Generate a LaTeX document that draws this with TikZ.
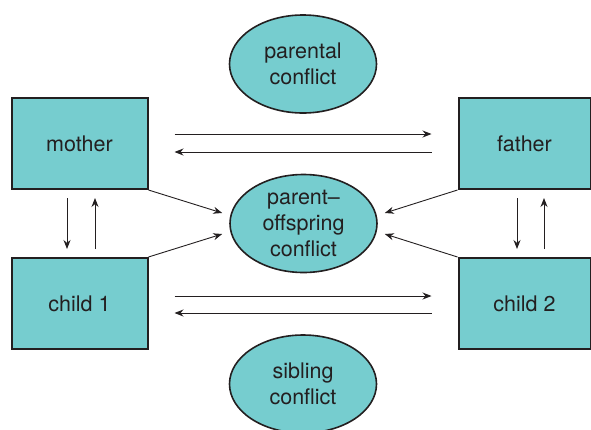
\documentclass[tikz,border=0pt]{standalone}
\usepackage{fontspec}
\setmainfont{TeX Gyre Heros}
\usetikzlibrary{arrows.meta,shapes.geometric}
\definecolor{teal1}{RGB}{118,205,207}
\definecolor{ink}{RGB}{35,31,32}
\begin{document}
\begin{tikzpicture}[
x=1pt, y=-1pt,
font=\fontsize{21.5}{26}\selectfont,
member/.style={rectangle, draw=ink, line width=2pt, fill=teal1, text=ink, minimum width=136pt, minimum height=91pt},
conflict/.style={ellipse, draw=ink, line width=1.6pt, fill=teal1, text=ink, align=center, minimum width=147pt, minimum height=98pt, inner sep=0pt},
arr/.style={draw=ink, line width=0.9pt, -{Stealth[length=9pt,width=7pt]}}
]
\useasboundingbox (0,0) rectangle (591,429);
\node[member] (mother) at (79.5,143.5) {mother};
\node[member] (child1) at (79.5,303.5) {child 1};
\node[member, minimum width=132pt] (father) at (524.5,143.5) {father};
\node[member, minimum width=132pt] (child2) at (524.5,303.5) {child 2};
\node[conflict] (parental) at (303,64) {parental\\conflict};
\node[conflict] (po) at (303.5,223.5) {parent–\\offspring\\conflict};
\node[conflict] (sibling) at (303,384) {sibling\\conflict};
\draw[arr, shorten <=26pt, shorten >=26pt] ([yshift=9.5pt]mother.east) -- ([yshift=9.5pt]father.west);
\draw[arr, shorten <=26pt, shorten >=26pt] ([yshift=-8.5pt]father.west) -- ([yshift=-8.5pt]mother.east);
\draw[arr, shorten <=26pt, shorten >=26pt] ([yshift=7.5pt]child1.east) -- ([yshift=7.5pt]child2.west);
\draw[arr, shorten <=26pt, shorten >=26pt] ([yshift=-9.5pt]child2.west) -- ([yshift=-9.5pt]child1.east);
\draw[arr, shorten <=8pt, shorten >=8pt] ([xshift=-12.5pt]mother.south) -- ([xshift=-12.5pt]child1.north);
\draw[arr, shorten <=8pt, shorten >=8pt] ([xshift=15.5pt]child1.north) -- ([xshift=15.5pt]mother.south);
\draw[arr, shorten <=8pt, shorten >=8pt] ([xshift=-7.5pt]father.south) -- ([xshift=-7.5pt]child2.north);
\draw[arr, shorten <=8pt, shorten >=8pt] ([xshift=19.5pt]child2.north) -- ([xshift=19.5pt]father.south);
\draw[arr] (mother.south east) -- ([xshift=-7pt,yshift=10.5pt]po.west);
\draw[arr] (child1.north east) -- ([xshift=-7pt,yshift=-10.5pt]po.west);
\draw[arr] (father.south west) -- ([xshift=7pt,yshift=10.5pt]po.east);
\draw[arr] (child2.north west) -- ([xshift=7pt,yshift=-10.5pt]po.east);
\end{tikzpicture}
\end{document}
